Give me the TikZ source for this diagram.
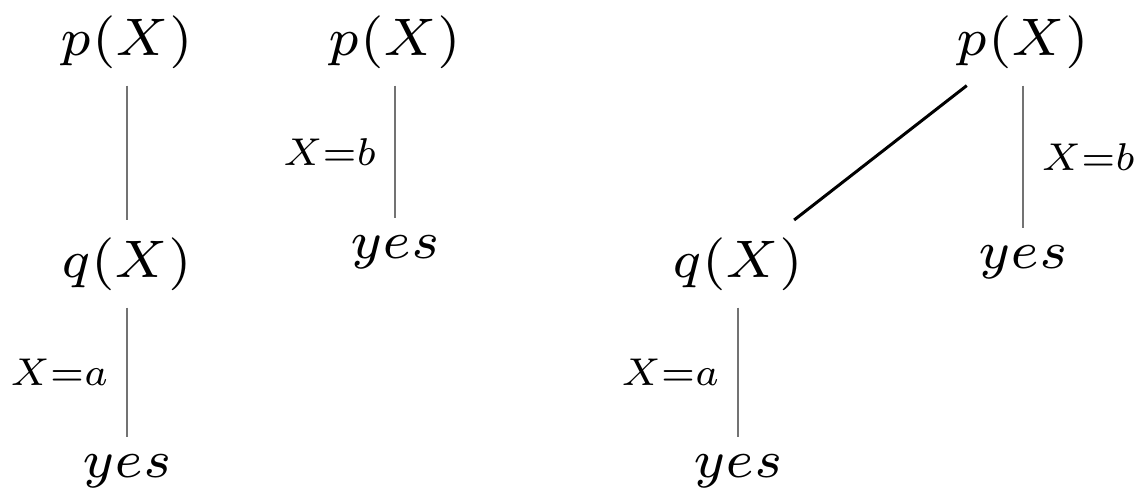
\documentclass[tikz,border=0pt]{standalone}
\usepackage{graphicx}
\newcommand{\bigterm}[1]{\scalebox{4.3}{\fontsize{7}{8}\selectfont$#1$}}
\newcommand{\lbltext}[1]{\scalebox{3.15}{\fontsize{7}{8}\selectfont$#1$}}
\begin{document}
\begin{tikzpicture}[
  term/.style={anchor=base, inner sep=0.34cm},
  lbl/.style={inner sep=0.36cm},
  branch/.style={draw=black!55, line width=1.1pt},
  diag/.style={draw=black, line width=1.7pt}
]
\useasboundingbox (0,0) rectangle (22.8,-9.8);
% tree 1
\node[term] (p1) at (2.54,-1.10) {\bigterm{p(X)}};
\node[term] (q1) at (2.54,-5.54) {\bigterm{q(X)}};
\node[term] (y1) at (2.54,-9.54) {\bigterm{yes}};
\draw[branch] (p1) -- (q1);
\draw[branch] (q1) -- node[lbl, left] {\lbltext{X{=}a}} (y1);
% tree 2
\node[term] (p2) at (7.90,-1.10) {\bigterm{p(X)}};
\node[term] (y2) at (7.90,-5.16) {\bigterm{yes}};
\draw[branch] (p2) -- node[lbl, left] {\lbltext{X{=}b}} (y2);
% tree 3
\node[term] (p3) at (20.46,-1.10) {\bigterm{p(X)}};
\node[term] (q3) at (14.76,-5.54) {\bigterm{q(X)}};
\node[term] (y3a) at (14.76,-9.54) {\bigterm{yes}};
\node[term] (y3b) at (20.46,-5.36) {\bigterm{yes}};
\draw[diag] (p3) -- (q3);
\draw[branch] (q3) -- node[lbl, left] {\lbltext{X{=}a}} (y3a);
\draw[branch] (p3) -- node[lbl, right] {\lbltext{X{=}b}} (y3b);
\end{tikzpicture}
\end{document}
